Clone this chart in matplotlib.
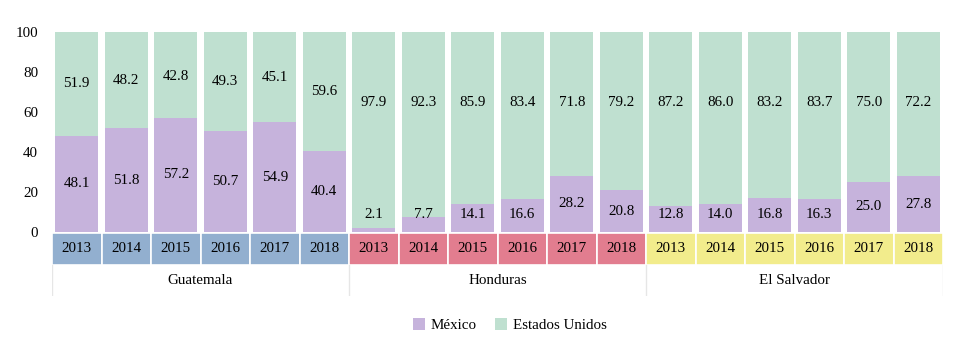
import matplotlib.pyplot as plt
import numpy as np
from matplotlib.patches import Rectangle

# Datos
countries = ['Guatemala', 'Honduras', 'El Salvador']
years = ['2013', '2014', '2015', '2016', '2017', '2018']
mexico = [48.1, 51.8, 57.2, 50.7, 54.9, 40.4,
          2.1, 7.7, 14.1, 16.6, 28.2, 20.8,
          12.8, 14.0, 16.8, 16.3, 25.0, 27.8]
usa = [51.9, 48.2, 42.8, 49.3, 45.1, 59.6,
       97.9, 92.3, 85.9, 83.4, 71.8, 79.2,
       87.2, 86.0, 83.2, 83.7, 75.0, 72.2]

plt.rcParams['font.family'] = ['Liberation Serif', 'DejaVu Serif']

c_mex = '#c6b3dc'
c_usa = '#bfe0d0'
c_country = ['#92afcf', '#e27d8f', '#f2ec8c']
fs = 10.8

W, H = 969, 346
fig = plt.figure(figsize=(W / 100, H / 100), dpi=100)
x0, x1 = 52, 943
ax = fig.add_axes([x0 / W, 1 - 232 / H, (x1 - x0) / W, 200 / H])

n = len(mexico)
x = np.arange(n)
mex = np.array(mexico)
us = np.array(usa)
ax.bar(x, mex, width=0.87, color=c_mex, label='México')
ax.bar(x, us, width=0.87, bottom=mex, color=c_usa, label='Estados Unidos')

for i in range(n):
    ym = max(mex[i] / 2, 8.5)
    yu = np.clip(mex[i] + us[i] / 2, 65, 78)
    ax.text(x[i], ym, f'{mex[i]:.1f}', ha='center', va='center', fontsize=fs)
    ax.text(x[i], yu, f'{us[i]:.1f}', ha='center', va='center', fontsize=fs)

ax.set_xlim(-0.5, n - 0.5)
ax.set_ylim(0, 100)
ax.set_yticks(range(0, 101, 20))
ax.tick_params(axis='y', length=0, labelsize=fs, pad=10)
ax.set_xticks([])
for s in ax.spines.values():
    s.set_visible(False)

# Tabla inferior: años y países
tab = fig.add_axes([x0 / W, 1 - 296 / H, (x1 - x0) / W, 63 / H])
tab.set_xlim(-0.5, n - 0.5)
tab.set_ylim(0, 2)
tab.axis('off')
for i in range(n):
    g = i // len(years)
    tab.add_patch(Rectangle((i - 0.5, 1), 1, 1, facecolor=c_country[g],
                            edgecolor='white', linewidth=1.2))
    tab.text(i, 1.5, years[i % len(years)], ha='center', va='center', fontsize=fs)
for g, name in enumerate(countries):
    tab.text(g * len(years) + (len(years) - 1) / 2, 0.5, name,
             ha='center', va='center', fontsize=fs)
for g in range(len(countries) + 1):
    tab.plot([g * len(years) - 0.5] * 2, [0, 1], color='#e6e6e6', linewidth=1)

fig.legend(loc='center', bbox_to_anchor=(510 / W, 1 - 325 / H), ncol=2,
           frameon=False, fontsize=fs, handlelength=0.8, handleheight=0.8,
           columnspacing=1.2, handletextpad=0.4)

fig.savefig('out.png', dpi=100)
